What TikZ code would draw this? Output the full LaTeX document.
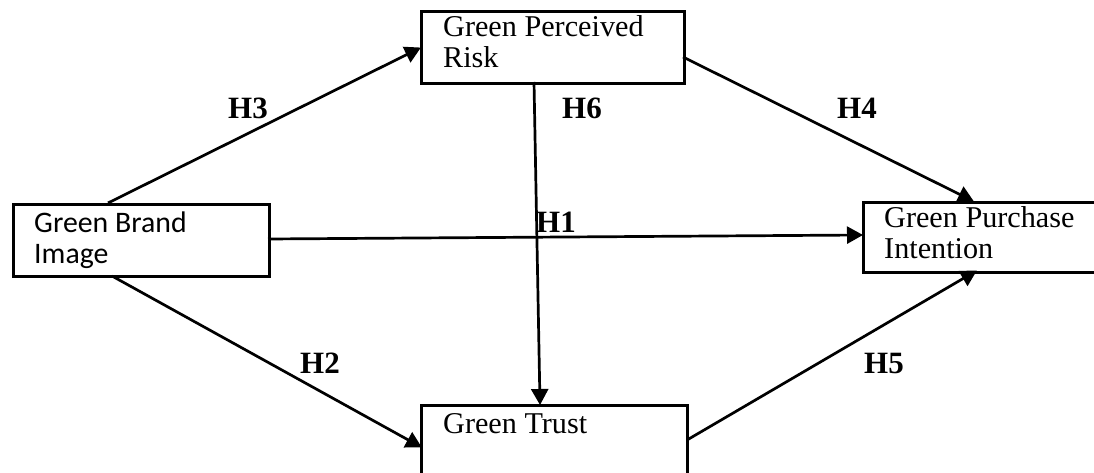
\documentclass[tikz,border=0pt]{standalone}
\usepackage{fontspec}
\setmainfont{Liberation Serif}
\newfontfamily\calib{Carlito}
\usetikzlibrary{arrows.meta}
\tikzset{
  box/.style={draw, line width=2.8pt, inner sep=0pt, anchor=north west},
  boxtext/.style={inner sep=0pt, anchor=base west, align=left, font=\fontsize{30.2}{31}\selectfont},
  lbl/.style={inner sep=0pt, font=\fontsize{31}{31}\selectfont\bfseries},
  arr/.style={line width=2.7pt, -{Triangle[length=16pt,width=17pt]}, shorten >=-1pt},
}
\begin{document}
\begin{tikzpicture}[x=1pt,y=-1pt]
\useasboundingbox (0,0) rectangle (1094,473);
% boxes
\node[box, minimum width=256pt, minimum height=72pt] (gbi) at (12,203) {};
\node[box, minimum width=263pt, minimum height=72pt] (gpr) at (420,10) {};
\node[box, minimum width=250pt, minimum height=70pt] (gpi) at (862,201) {};
\node[box, minimum width=266pt, minimum height=90pt] (gt) at (420,404) {};
% texts (anchor = baseline of last line)
\node[boxtext, font=\calib\fontsize{29.8}{31}\selectfont] (tgbi) at (34,263) {Green Brand\\Image};
\node[boxtext] (tgpr) at (443,68) {Green Perceived\\Risk};
\node[boxtext] (tgpi) at (884,258) {Green Purchase\\Intention};
\node[boxtext] (tgt) at (443,433) {Green Trust};
% coordinates on boxes
\coordinate (h3s) at (108,203);
\coordinate (h3e) at (420,48);
\coordinate (h2s) at (112,276);
\coordinate (h2e) at (421,447);
\coordinate (h1s) at (268,239);
\coordinate (h1e) at (862,235);
\coordinate (h6s) at (534,82);
\coordinate (h6e) at (540,404);
\coordinate (h4s) at (683,57);
\coordinate (h4e) at (973,201);
\coordinate (h5s) at (687,440);
\coordinate (h5e) at (976,271);
% connectors
\draw[arr] (h3s) -- (h3e);
\draw[arr] (h2s) -- (h2e);
\draw[arr] (h1s) -- (h1e);
\draw[arr] (h6s) -- (h6e);
\draw[arr] (h4s) -- (h4e);
\draw[arr] (h5s) -- (h5e);
% labels
\node[lbl] (l3) at (248,108) {H3};
\node[lbl] (l6) at (582,108) {H6};
\node[lbl] (l4) at (857,108) {H4};
\node[lbl] (l1) at (556,222) {H1};
\node[lbl] (l2) at (320,363) {H2};
\node[lbl] (l5) at (884,363) {H5};
\end{tikzpicture}
\end{document}
